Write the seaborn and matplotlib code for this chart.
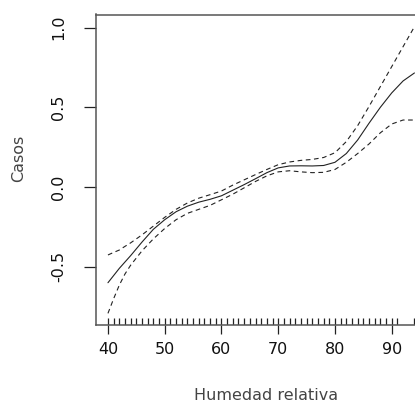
import numpy as np
import pandas as pd
import matplotlib
matplotlib.use("Agg")
import matplotlib.pyplot as plt
import seaborn as sns

# Data
humedad = [40, 41, 42, 43, 44, 46, 48, 50, 52, 54, 56, 58, 60, 62, 64, 66, 68, 70,
           72, 74, 76, 78, 80, 82, 84, 86, 88, 90, 92, 94]
ajuste = [-0.60, -0.555, -0.51, -0.47, -0.43, -0.345, -0.265, -0.205, -0.155, -0.12,
          -0.095, -0.077, -0.055, -0.02, 0.015, 0.052, 0.09, 0.12, 0.132, 0.133,
          0.132, 0.135, 0.155, 0.21, 0.295, 0.40, 0.50, 0.59, 0.665, 0.715]
superior = [-0.426, -0.41, -0.395, -0.372, -0.35, -0.30, -0.245, -0.19, -0.14, -0.10,
            -0.07, -0.048, -0.025, 0.012, 0.045, 0.078, 0.11, 0.14, 0.157, 0.167,
            0.173, 0.185, 0.215, 0.285, 0.385, 0.505, 0.63, 0.755, 0.88, 1.005]
inferior = [-0.792, -0.70, -0.615, -0.545, -0.49, -0.40, -0.325, -0.26, -0.205, -0.165,
            -0.14, -0.115, -0.08, -0.045, -0.005, 0.035, 0.07, 0.095, 0.102, 0.095,
            0.09, 0.092, 0.11, 0.155, 0.21, 0.27, 0.34, 0.395, 0.42, 0.42]
rug_x = list(range(40, 92)) + [94]
xticks = [40, 50, 60, 70, 80, 90]
yticks = [-0.5, 0.0, 0.5, 1.0]
ytick_labels = ["-0.5", "0.0", "0.5", "1.0"]

sns.set_style("white")
plt.rcParams['font.family'] = ['DejaVu Sans']

df = pd.DataFrame({"Humedad": humedad, "fit": ajuste, "up": superior, "lo": inferior})

fig = plt.figure(figsize=(4.15, 4.07), dpi=100)
ax = fig.add_axes([95.7 / 415, 82 / 407, 331 / 415, 310.5 / 407])

lc = "#222222"
sns.lineplot(data=df, x="Humedad", y="fit", ax=ax, color=lc, linewidth=0.8)
sns.lineplot(data=df, x="Humedad", y="up", ax=ax, color=lc, linewidth=0.8,
             linestyle=(0, (4.2, 3.2)))
sns.lineplot(data=df, x="Humedad", y="lo", ax=ax, color=lc, linewidth=0.8,
             linestyle=(0, (4.2, 3.2)))
sns.rugplot(x=rug_x, ax=ax, height=0.022, color=lc, linewidth=0.9, expand_margins=False)

ax.set_xlim(37.84, 96.16)
ax.set_ylim(-0.865, 1.0815)
ax.set_xticks(xticks)
ax.set_xticklabels([str(t) for t in xticks])
ax.set_yticks(yticks)
ax.set_yticklabels(ytick_labels, rotation=90, va="center")

for s in ax.spines.values():
    s.set_color("#555555")
    s.set_linewidth(1.1)

ax.tick_params(axis="x", length=6.5, width=0.9, color="#222222", pad=5.5,
               labelsize=11.5, labelcolor="#111111", direction="out", bottom=True)
ax.tick_params(axis="y", length=8.5, width=0.9, color="#222222", pad=13,
               labelsize=11.5, labelcolor="#111111", direction="out", left=True)

ax.set_xlabel("Humedad relativa", fontsize=11.5, color="#444444", va="center")
ax.set_ylabel("Casos", fontsize=11.5, color="#444444", va="center")
ax.xaxis.set_label_coords((266 - 95.7) / 331, -(396 - 325) / 310.5)
ax.yaxis.set_label_coords((19 - 95.7) / 331, (325 - 158) / 310.5)

fig.savefig("out.png", dpi=100)
